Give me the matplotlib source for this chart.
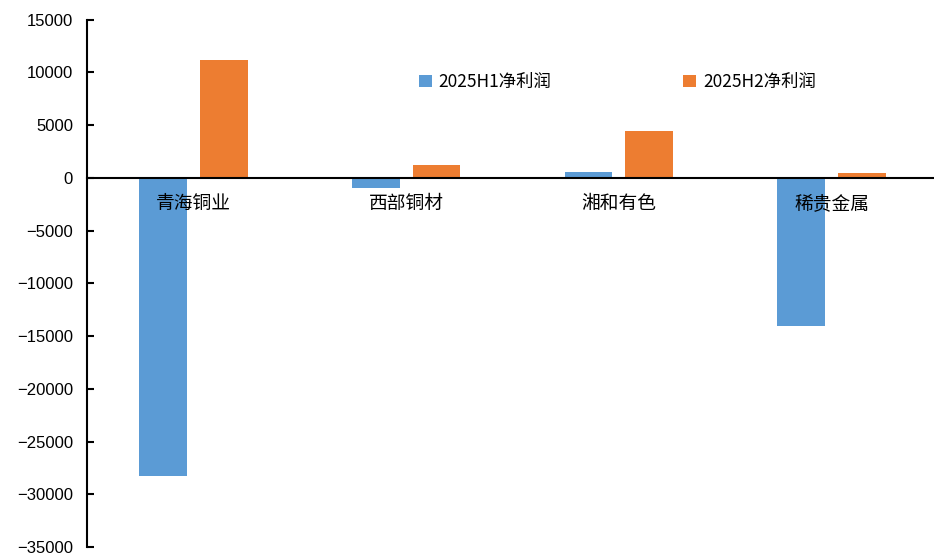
import matplotlib; matplotlib.use('Agg')
import numpy as np
from matplotlib import pyplot as plt

plt.rcParams['font.family'] = ['Liberation Sans', 'Noto Sans CJK SC', 'DejaVu Sans']

companies = ['青海铜业', '西部铜材', '湘和有色', '稀贵金属']
h1_profit = [-28300, -1000, 550, -14000]
h2_profit = [11200, 1200, 4450, 450]
series_labels = ['2025H1净利润', '2025H2净利润']

BLUE = '#5B9BD5'
ORANGE = '#ED7D31'
CJK = ['Noto Sans CJK SC', 'DejaVu Sans']

fig = plt.figure(figsize=(9.34, 5.54), dpi=100)
ax = fig.add_axes([87/934, 1 - 547/554, 851/934, (547 - 19.7)/554])

x = np.arange(len(companies))
w = 0.225
off = 0.143
ax.bar(x - off, h1_profit, w, color=BLUE, label=series_labels[0])
ax.bar(x + off, h2_profit, w, color=ORANGE, label=series_labels[1])

ax.set_xlim(-0.5, len(companies) - 0.5)
ax.set_ylim(-35000, 15000)
ax.set_yticks(np.arange(-35000, 15001, 5000))

ax.spines['top'].set_visible(False)
ax.spines['right'].set_visible(False)
ax.spines['bottom'].set_position(('data', 0))
ax.spines['bottom'].set_linewidth(1.5)
ax.spines['left'].set_linewidth(1.5)

ax.tick_params(axis='y', direction='in', length=5, width=1.5, pad=10, labelsize=12)
ax.tick_params(axis='x', length=0, pad=11)
ax.set_xticks(x)
ax.set_xticklabels(companies, fontsize=13.5, family=CJK)

leg = ax.legend(loc='center', bbox_to_anchor=((617.5 - 87)/851, 1 - (82 - 19.7)/527.3),
                ncol=2, frameon=False, prop={'family': CJK, 'size': 12.5},
                handlelength=0.75, handleheight=0.75, handletextpad=0.4,
                columnspacing=7.6)

plt.savefig('out.png', dpi=100)
plt.close()
